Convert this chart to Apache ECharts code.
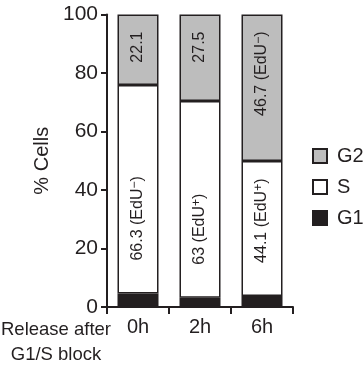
<!DOCTYPE html>
<html>
<head>
<meta charset="utf-8">
<script src="https://cdn.jsdelivr.net/npm/echarts@6/dist/echarts.min.js"></script>
<style>
html,body{margin:0;padding:0;background:#fff;}
#chart{width:363px;height:369px;}
</style>
</head>
<body>
<div id="chart"></div>
<script>
var categories = ['0h', '2h', '6h'];
var g1Values = [4.6, 3.2, 3.8];
var sValues = [71.3, 67.2, 46.1];
var g2Values = [24.1, 29.6, 50.1];
var sLabels = ['66.3 (EdU-)', '63 (EdU+)', '44.1 (EdU+)'];
var g2Labels = ['22.1', '27.5', '46.7 (EdU-)'];
var yTicks = [0, 20, 40, 60, 80, 100];

var FONT = '"Liberation Sans", Arial, sans-serif';
var INK = '#231f20';

function richText(s) {
  return s.replace(/EdU([+-])\)/, function (m, c) {
    return 'EdU{sup|' + (c === '-' ? '\u2212' : '+') + '})';
  });
}

var labelRich = {
  sup: { fontSize: 12, lineHeight: 12, verticalAlign: 'top', fontFamily: FONT, color: INK }
};

var chart = echarts.init(document.getElementById('chart'), null, { renderer: 'canvas' });
chart.setOption({
  animation: false,
  backgroundColor: '#ffffff',
  grid: { left: 107, right: 70, top: 14.5, bottom: 62, containLabel: false },
  legend: {
    orient: 'vertical',
    left: 307,
    top: 141,
    data: ['G2', 'S', 'G1'],
    icon: 'rect',
    itemWidth: 14,
    itemHeight: 14,
    itemGap: 11,
    selectedMode: false,
    textStyle: { fontFamily: FONT, fontSize: 20, color: INK, padding: [0, 0, 0, 5] }
  },
  xAxis: {
    type: 'category',
    data: categories,
    axisLine: { lineStyle: { color: INK, width: 2 } },
    axisTick: { show: true, length: 7, lineStyle: { color: INK, width: 2 } },
    axisLabel: { fontFamily: FONT, fontSize: 20, color: INK, margin: 10 }
  },
  yAxis: {
    type: 'value',
    min: 0, max: 100, interval: 20,
    name: '% Cells',
    nameLocation: 'middle',
    nameGap: 50,
    nameRotate: 90,
    nameTextStyle: { fontFamily: FONT, fontSize: 20, color: INK },
    axisLine: { show: true, lineStyle: { color: INK, width: 2 } },
    axisTick: { show: true, length: 6, lineStyle: { color: INK, width: 2 } },
    splitLine: { show: false },
    axisLabel: {
      fontFamily: FONT, fontSize: 21, color: INK, margin: 9,
      formatter: function (v) { return yTicks.indexOf(v) >= 0 ? String(v) : ''; }
    }
  },
  graphic: [{
    type: 'text',
    x: 56,
    y: 317,
    style: {
      text: 'Release after\nG1/S block',
      align: 'center',
      verticalAlign: 'top',
      fontFamily: FONT, fontSize: 18.5, lineHeight: 25, fill: INK
    }
  }],
  series: [
    {
      name: 'G1', type: 'bar', stack: 'total', barWidth: 41,
      data: g1Values,
      itemStyle: { color: INK, borderColor: INK, borderWidth: 1.5 }
    },
    {
      name: 'S', type: 'bar', stack: 'total', barWidth: 41,
      data: sValues,
      itemStyle: { color: '#ffffff', borderColor: INK, borderWidth: 1.5 },
      label: {
        show: true, position: 'insideBottom', distance: 33, rotate: 90,
        align: 'left', verticalAlign: 'middle',
        fontFamily: FONT, fontSize: 16, lineHeight: 18, color: INK,
        rich: labelRich,
        formatter: function (p) { return richText(sLabels[p.dataIndex]); }
      }
    },
    {
      name: 'G2', type: 'bar', stack: 'total', barWidth: 41,
      data: g2Values,
      itemStyle: { color: '#bdbdbd', borderColor: INK, borderWidth: 1.5 },
      label: {
        show: true, position: 'insideTop', distance: 17, rotate: 90,
        align: 'right', verticalAlign: 'middle',
        fontFamily: FONT, fontSize: 16, lineHeight: 18, color: INK,
        rich: labelRich,
        formatter: function (p) { return richText(g2Labels[p.dataIndex]); }
      }
    }
  ]
});
</script>
</body>
</html>
